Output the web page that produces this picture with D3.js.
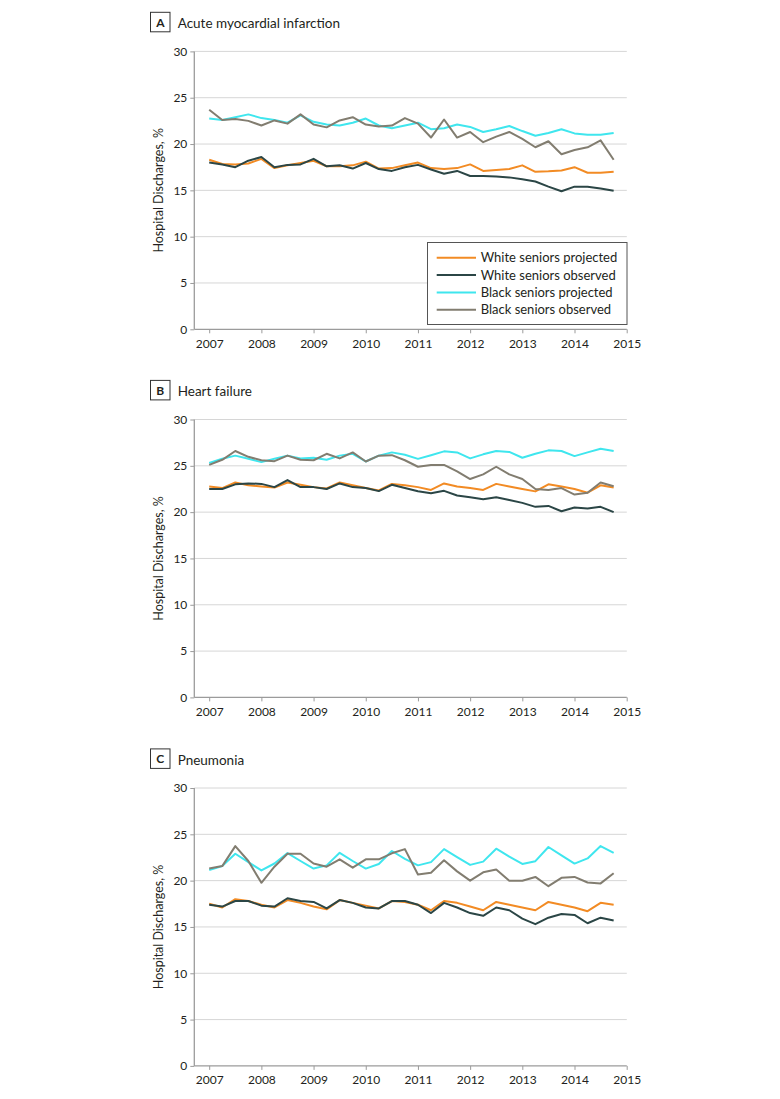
<!DOCTYPE html>
<html><head><meta charset="utf-8">
<script src="https://cdn.jsdelivr.net/npm/d3@7"></script>
<style>
html,body{margin:0;padding:0;background:#fff;}
svg{display:block;font-family:Lato,"Open Sans",sans-serif;}
</style></head>
<body><svg id="chart" width="780" height="1099"></svg>
<script>
const quarters = [2007,2007.25,2007.5,2007.75,2008,2008.25,2008.5,2008.75,2009,2009.25,2009.5,2009.75,2010,2010.25,2010.5,2010.75,
  2011,2011.25,2011.5,2011.75,2012,2012.25,2012.5,2012.75,2013,2013.25,2013.5,2013.75,2014,2014.25,2014.5,2014.75];
const xTicks = [2007,2008,2009,2010,2011,2012,2013,2014,2015];
const yTicks = [0,5,10,15,20,25,30];
const seriesNames = ["White seniors projected","White seniors observed","Black seniors projected","Black seniors observed"];
const seriesColors = ["#f28b24","#2b4646","#3fe6ee","#827d70"];
const panelLetters = ["A","B","C"];
const panelTitles = ["Acute myocardial infarction","Heart failure","Pneumonia"];

const whiteProjA = [18.3,17.85,17.8,17.9,18.4,17.4,17.7,17.95,18.2,17.6,17.6,17.7,18.1,17.35,17.4,17.7,18.0,17.4,17.3,17.4,17.8,17.1,17.2,17.3,17.7,17.0,17.05,17.15,17.5,16.9,16.9,17.0];
const whiteObsA  = [18.0,17.8,17.5,18.2,18.6,17.5,17.75,17.8,18.4,17.6,17.7,17.35,17.95,17.3,17.1,17.5,17.75,17.25,16.8,17.1,16.55,16.55,16.5,16.4,16.2,15.95,15.4,14.9,15.4,15.4,15.2,14.95];
const blackProjA = [22.75,22.6,22.9,23.2,22.8,22.6,22.3,23.1,22.4,22.1,22.0,22.3,22.75,22.0,21.7,22.0,22.3,21.6,21.7,22.1,21.85,21.3,21.6,21.95,21.4,20.9,21.2,21.6,21.15,21.0,21.0,21.2];
const blackObsA  = [23.7,22.6,22.7,22.5,22.0,22.55,22.2,23.2,22.1,21.8,22.55,22.9,22.1,21.9,22.0,22.8,22.2,20.7,22.65,20.7,21.3,20.2,20.8,21.3,20.55,19.65,20.3,18.9,19.35,19.65,20.4,18.3];

const whiteProjB = [22.77,22.6,23.2,22.9,22.77,22.65,23.2,22.95,22.7,22.55,23.2,22.9,22.6,22.34,23.05,22.9,22.7,22.4,23.1,22.77,22.6,22.4,23.05,22.77,22.5,22.24,23.0,22.77,22.5,22.1,22.9,22.65];
const whiteObsB  = [22.5,22.5,23.0,23.1,23.05,22.7,23.46,22.7,22.7,22.5,23.1,22.7,22.6,22.27,22.95,22.6,22.25,22.05,22.3,21.8,21.6,21.4,21.6,21.3,21.0,20.57,20.67,20.1,20.5,20.4,20.57,20.0];
const blackProjB = [25.3,25.77,26.1,25.77,25.4,25.77,26.1,25.8,25.87,25.65,26.1,26.3,25.47,26.1,26.45,26.2,25.75,26.15,26.56,26.45,25.8,26.24,26.6,26.5,25.87,26.3,26.67,26.6,26.05,26.45,26.85,26.6];
const blackObsB  = [25.1,25.65,26.6,25.97,25.6,25.5,26.1,25.65,25.6,26.3,25.8,26.45,25.47,26.1,26.15,25.6,24.9,25.1,25.1,24.4,23.57,24.07,24.9,24.07,23.57,22.5,22.4,22.6,21.9,22.1,23.2,22.8];

const whiteProjC = [17.5,17.1,18.0,17.8,17.4,17.1,17.9,17.6,17.2,16.9,17.9,17.6,17.3,17.0,17.8,17.7,17.4,16.8,17.8,17.6,17.2,16.8,17.7,17.4,17.1,16.8,17.7,17.4,17.1,16.7,17.6,17.4];
const whiteObsC  = [17.4,17.2,17.8,17.8,17.3,17.2,18.1,17.8,17.7,17.0,17.9,17.6,17.1,17.0,17.8,17.8,17.4,16.5,17.6,17.1,16.5,16.2,17.1,16.8,15.9,15.3,16.0,16.4,16.3,15.4,16.0,15.7];
const blackProjC = [21.14,21.57,22.9,22.0,21.1,21.85,22.98,22.12,21.3,21.65,23.0,22.12,21.3,21.8,23.2,22.36,21.65,22.0,23.4,22.54,21.7,22.05,23.45,22.6,21.8,22.1,23.63,22.72,21.84,22.4,23.73,23.0];
const blackObsC  = [21.3,21.57,23.73,22.12,19.77,21.5,22.9,22.9,21.85,21.5,22.3,21.4,22.3,22.3,22.95,23.4,20.67,20.85,22.2,21.0,20.0,20.9,21.2,19.98,19.98,20.4,19.4,20.3,20.4,19.8,19.7,20.8];

const panels = [
  [whiteProjA, whiteObsA, blackProjA, blackObsA],
  [whiteProjB, whiteObsB, blackProjB, blackObsB],
  [whiteProjC, whiteObsC, blackProjC, blackObsC]
];

const svg = d3.select("#chart");
const axisX0 = 194.3, plotRight = 626.8;
const x = d3.scaleLinear().domain([2007, 2015]).range([209.2, 626.7]);
const bottoms = [329.3, 697.4, 1065.9];
const plotH = 277.9;
const textColor = "#231f20";

panels.forEach((series, p) => {
  const bottom = bottoms[p];
  const y = d3.scaleLinear().domain([0, 30]).range([bottom, bottom - plotH]);
  const g = svg.append("g");

  // title
  const tY = bottom - 301;
  g.append("rect").attr("x", 150.5).attr("y", tY - 16).attr("width", 19.5).attr("height", 19.5)
    .attr("fill", "none").attr("stroke", "#333").attr("stroke-width", 1);
  g.append("text").attr("x", 160.3).attr("y", tY - 1.5).attr("text-anchor", "middle")
    .attr("font-size", 12).attr("font-weight", "bold").attr("fill", textColor).text(panelLetters[p]);
  g.append("text").attr("x", 177.7).attr("y", tY).attr("font-size", 13.5)
    .attr("fill", textColor).text(panelTitles[p]);

  // gridlines
  g.append("g").selectAll("line").data(yTicks.filter(d => d > 0)).join("line")
    .attr("x1", axisX0).attr("x2", plotRight)
    .attr("y1", d => y(d)).attr("y2", d => y(d))
    .attr("stroke", "#d6d6d6").attr("stroke-width", 1);

  // y axis
  const yAxis = g.append("g").attr("transform", `translate(${axisX0},0)`)
    .call(d3.axisLeft(y).tickValues(yTicks).tickSize(4).tickPadding(3));
  yAxis.select(".domain").attr("stroke", "#9b9b9b").attr("stroke-width", 1.3).attr("d", `M0,${y(30)}V${y(0)}`);
  yAxis.selectAll(".tick line").attr("stroke", "#9b9b9b");
  yAxis.selectAll("text").attr("font-size", 12).attr("fill", textColor).attr("font-family", "Lato");

  // x axis
  const xAxis = g.append("g").attr("transform", `translate(0,${bottom})`)
    .call(d3.axisBottom(x).tickValues(xTicks).tickFormat(d3.format("d")).tickSize(4).tickPadding(6));
  xAxis.select(".domain").attr("stroke", "#9b9b9b").attr("stroke-width", 1.3).attr("d", `M${axisX0},0H${plotRight}`);
  xAxis.selectAll(".tick line").attr("stroke", "#9b9b9b");
  xAxis.selectAll("text").attr("font-size", 12).attr("fill", textColor).attr("font-family", "Lato");

  // y label
  g.append("text").attr("transform", `translate(163,${bottom - plotH / 2}) rotate(-90)`)
    .attr("text-anchor", "middle").attr("font-size", 12.5).attr("fill", textColor)
    .text("Hospital Discharges, %");

  // lines
  const line = d3.line().x((d, i) => x(quarters[i])).y(d => y(d));
  series.forEach((vals, s) => {
    g.append("path").datum(vals).attr("d", line).attr("fill", "none")
      .attr("stroke", seriesColors[s]).attr("stroke-width", 2).attr("stroke-linejoin", "round");
  });

  // legend on panel A
  if (p === 0) {
    const lg = g.append("g");
    lg.append("rect").attr("x", 427.5).attr("y", 242.5).attr("width", 199.5).attr("height", 82)
      .attr("fill", "#fff").attr("stroke", "#555").attr("stroke-width", 1);
    seriesNames.forEach((name, s) => {
      const ly = 257.7 + s * 17.35;
      lg.append("line").attr("x1", 436.7).attr("x2", 476).attr("y1", ly).attr("y2", ly)
        .attr("stroke", seriesColors[s]).attr("stroke-width", 2);
      lg.append("text").attr("x", 480.7).attr("y", ly).attr("dy", "0.35em")
        .attr("font-size", 13).attr("fill", textColor).text(name);
    });
  }
});
</script>
</body></html>
